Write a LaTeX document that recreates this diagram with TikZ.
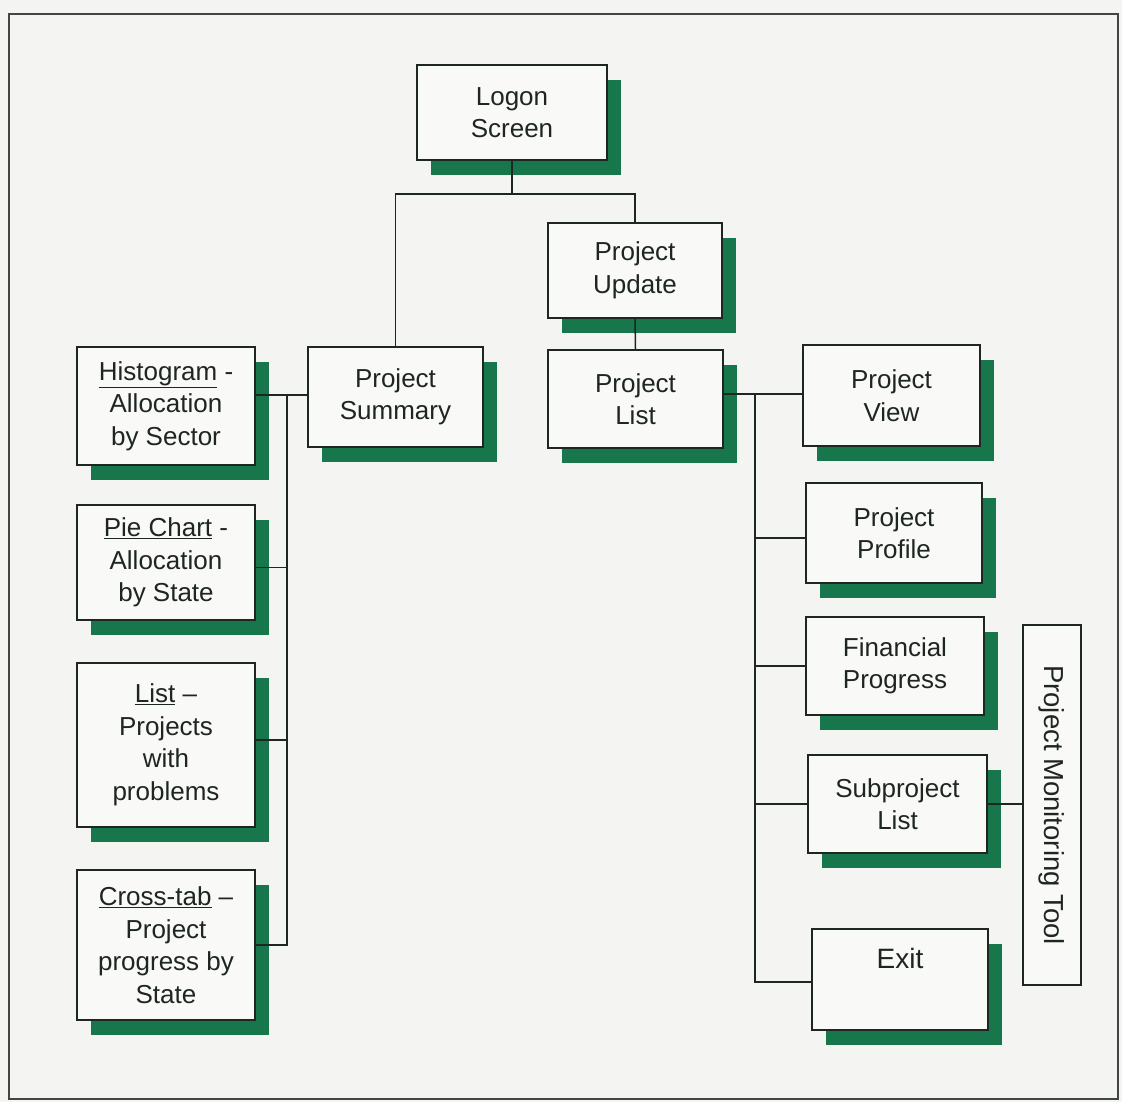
\documentclass[tikz,border=0pt]{standalone}
\usepackage{fontspec}
\setmainfont{Liberation Sans}
\usetikzlibrary{shadows}
\definecolor{shadowgreen}{RGB}{24,118,76}
\definecolor{inkc}{RGB}{30,38,34}
\definecolor{paper}{RGB}{244,245,243}
\definecolor{boxfill}{RGB}{249,249,248}
\tikzset{
  menubox/.style={draw=inkc, line width=1.8pt, fill=boxfill, align=center,
    text=inkc, inner sep=0pt,
    font=\fontsize{26}{32.5}\selectfont,
    drop shadow={shadow xshift=14pt, shadow yshift=-15pt, fill=shadowgreen, opacity=1, draw=none}},
  toolbox/.style={draw=inkc, line width=1.6pt, fill=boxfill, inner sep=0pt, text=inkc},
  link/.style={draw=inkc, line width=1.5pt},
  frame/.style={draw=inkc!85, line width=2.5pt}
}
\begin{document}
\begin{tikzpicture}[x=1pt,y=-1pt]
\fill[paper] (0,0) rectangle (1122,1102);
\useasboundingbox (0,0) rectangle (1122,1102);
\draw[frame] (9,14) rectangle (1118,1099);

% top
\node[menubox, minimum width=190pt, minimum height=95pt] (logon) at (512,112.5) {Logon\\Screen};
\node[menubox, minimum width=174pt, minimum height=95pt] (update) at (635,270.5) {Project\\Update};
\node[menubox, minimum width=175pt, minimum height=98pt] (plist) at (635.5,399) {Project\\List};
\node[menubox, minimum width=175pt, minimum height=100pt] (summary) at (395.5,397) {Project\\Summary};

% left column
\node[menubox, minimum width=178pt, minimum height=118pt] (hist) at (166,406) {\underline{Histogram} -\\Allocation\\by Sector};
\node[menubox, minimum width=178pt, minimum height=115pt] (pie) at (166,562.5) {\underline{Pie Chart} -\\Allocation\\by State};
\node[menubox, minimum width=178pt, minimum height=164pt] (list) at (166,745) {\underline{List} –\\Projects\\with\\problems};
\node[menubox, minimum width=178pt, minimum height=150pt] (cross) at (166,945) {\underline{Cross-tab} –\\Project\\progress by\\State};

% right column
\node[menubox, minimum width=177pt, minimum height=101pt] (view) at (891.5,395.5) {Project\\View};
\node[menubox, minimum width=176pt, minimum height=100pt] (profile) at (894,533) {Project\\Profile};
\node[menubox, minimum width=178pt, minimum height=98pt] (fin) at (895,666) {Financial\\Progress};
\node[menubox, minimum width=179pt, minimum height=98pt] (sub) at (897.5,804) {Subproject\\List};
\node[menubox, minimum width=176pt, minimum height=101pt] (exit) at (900,979.5) {};
\node[text=inkc, font=\fontsize{28}{32}\selectfont] (exittext) at (900,958) {Exit};

\node[toolbox, minimum width=58pt, minimum height=360pt] (tool) at (1052,805) {};
\node[rotate=-90, text=inkc, font=\fontsize{27.5}{32}\selectfont] (tooltext) at (tool.center) {Project Monitoring Tool};

% connectors top
\coordinate (j1) at (512,194);
\draw[link] (logon.south) -- (j1);
\draw[link] (summary.north) |- (j1) -| (update.north);
\draw[link] (update.south) -- (plist.north);

% left bus
\coordinate (lb) at (287,395);
\draw[link] (summary.west |- lb) -- (hist.east |- lb);
\draw[link] (lb) |- (cross.east);
\draw[link] ([yshift=-5pt]pie.east) -- ([yshift=-5pt]pie.east -| lb);
\draw[link] ([yshift=5pt]list.east) -- ([yshift=5pt]list.east -| lb);

% right bus
\coordinate (rb) at (755,394);
\draw[link] (plist.east |- rb) -- (view.west |- rb);
\draw[link] (rb) |- ([yshift=-2.5pt]exit.west);
\draw[link] ([yshift=-5pt]profile.west) -- ([yshift=-5pt]profile.west -| rb);
\draw[link] (fin.west) -- (fin.west -| rb);
\draw[link] (sub.west) -- (sub.west -| rb);
\draw[link] (sub.east) -- (sub.east -| tool.west);
\end{tikzpicture}
\end{document}
